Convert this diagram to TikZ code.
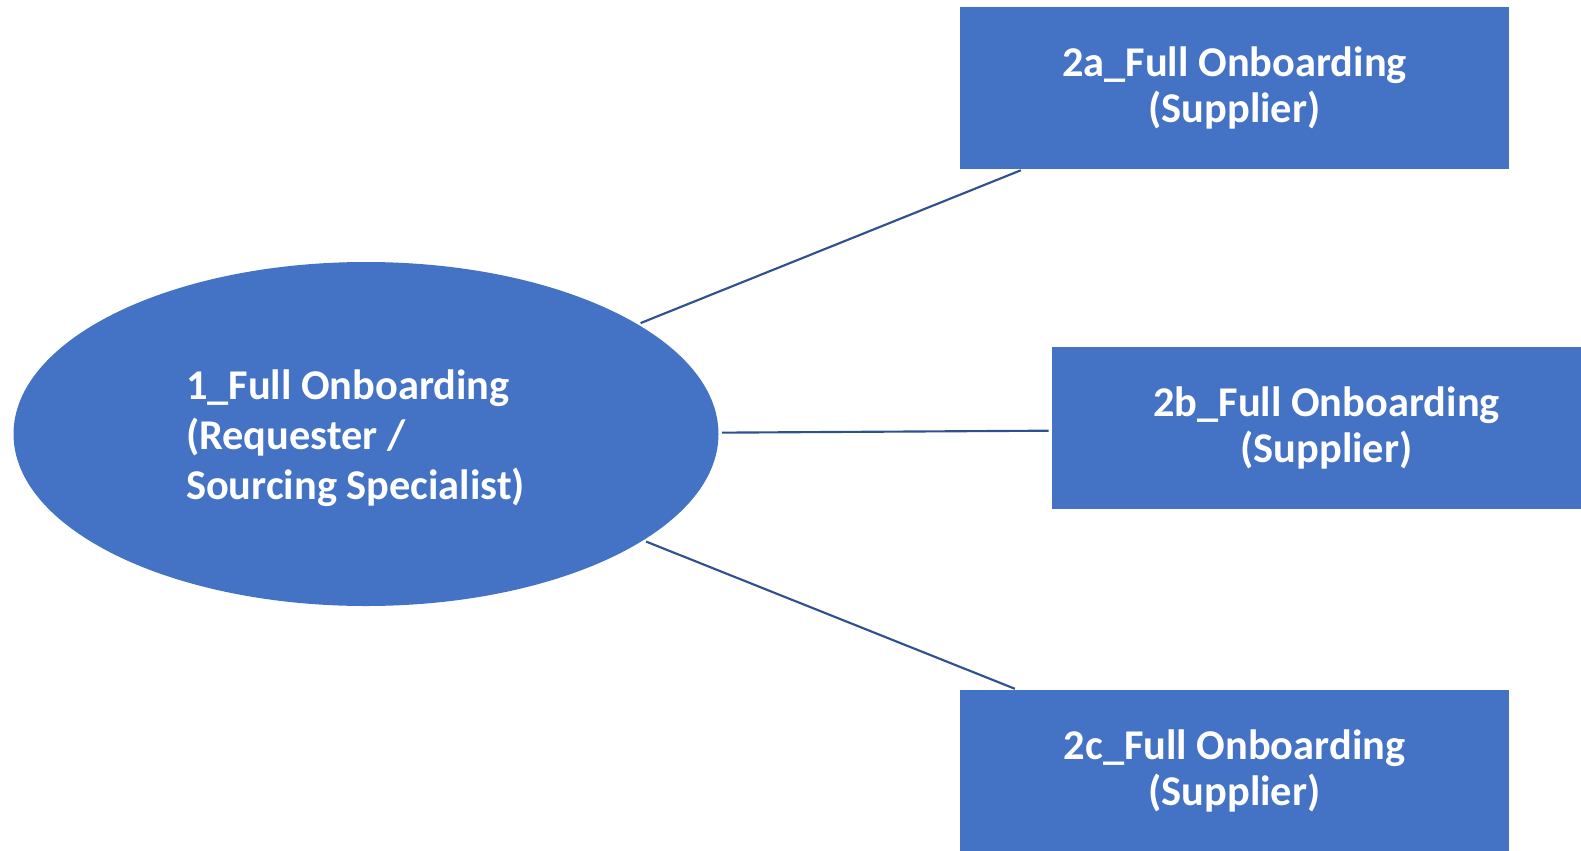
\documentclass[tikz,border=0pt]{standalone}
\usepackage{fontspec}
\setmainfont{Carlito}
\usetikzlibrary{shapes.geometric}
\definecolor{fillblue}{HTML}{4472C4}
\definecolor{lineblue}{HTML}{2F528F}

\begin{document}
\begin{tikzpicture}[x=0.75pt,y=-0.75pt,
  stepbox/.style={fill=fillblue, draw=none, inner sep=0pt, outer sep=0pt,
    minimum width=411.75pt, minimum height=121.5pt, text=white, align=center,
    font=\fontsize{31.8}{34.8}\selectfont\bfseries},
  startell/.style={ellipse, fill=fillblue, draw=none, inner sep=0pt, outer sep=0pt,
    minimum width=528.75pt, minimum height=258pt, text=white, align=flush left,
    text width=270pt, font=\fontsize{31.8}{37.8}\selectfont\bfseries},
  link/.style={draw=lineblue, line width=1.6pt, shorten <=2.5pt, shorten >=2.5pt}]
  \useasboundingbox (0,0) rectangle (1581,850);
  \clip (0,0) rectangle (1581,850);
  \node[startell] (req) at (366,434) {\rule{0pt}{0.9em}1\_Full Onboarding\\(Requester /\\Sourcing Specialist)};
  \node[stepbox] (sa) at (1234.5,88) {2a\_Full Onboarding\\(Supplier)};
  \node[stepbox] (sb) at (1326.5,428) {2b\_Full Onboarding\\(Supplier)};
  \node[stepbox] (sc) at (1234.5,771) {2c\_Full Onboarding\\(Supplier)};
  \draw[link] (req.22) -- ([xshift=48pt]sa.south west);
  \draw[link] ([yshift=1pt]req.east) -- ([yshift=-2pt]sb.west);
  \draw[link] (req.-21) -- ([xshift=43.5pt]sc.north west);
\end{tikzpicture}
\end{document}
